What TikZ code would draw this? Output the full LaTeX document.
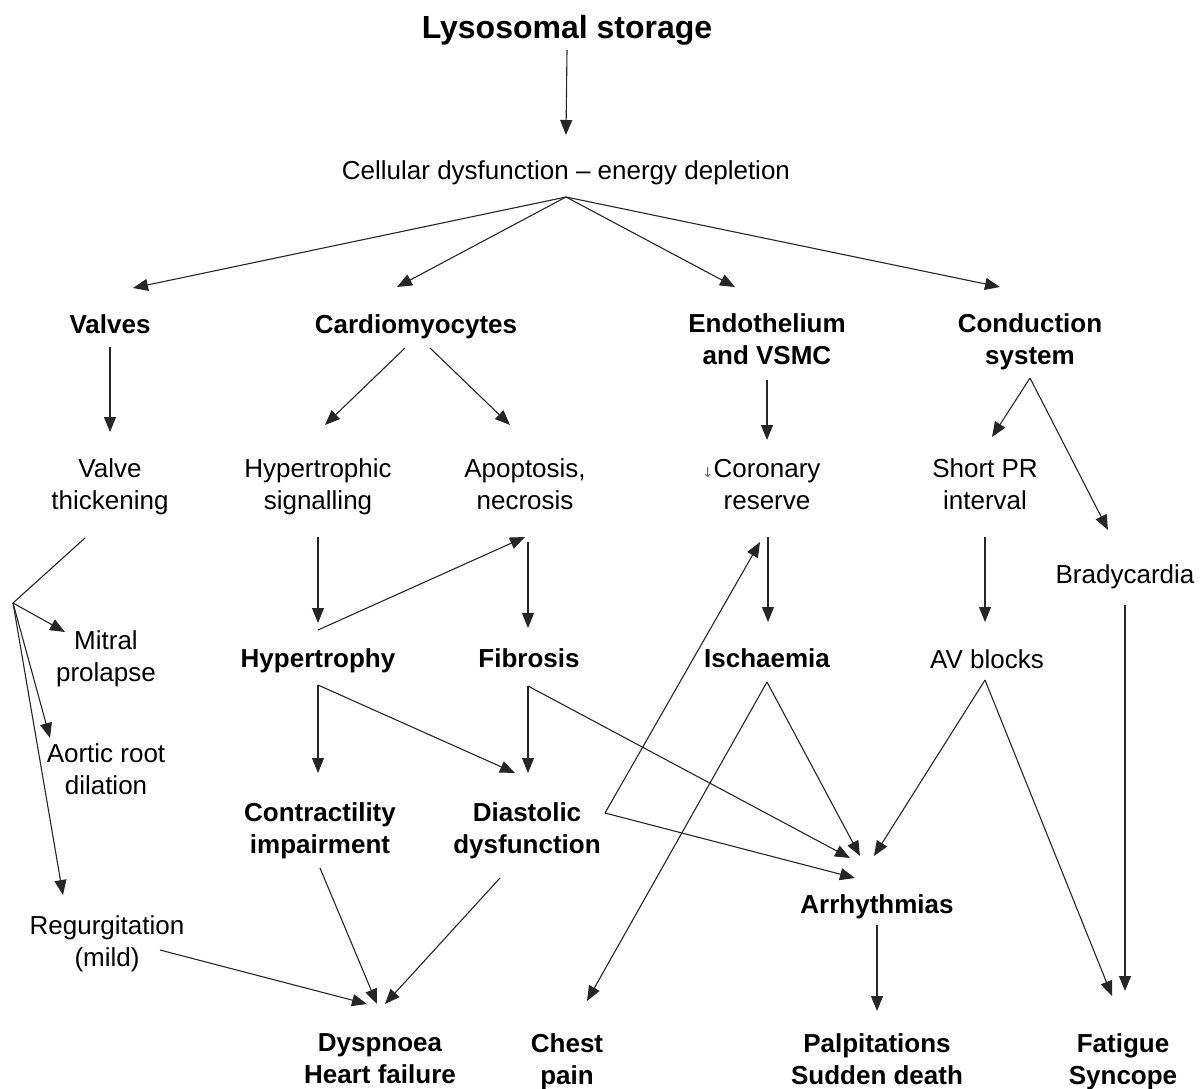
\documentclass[tikz,border=0pt]{standalone}
\usepackage{fontspec}
\setmainfont{Liberation Sans}
\newfontfamily\symfont{DejaVu Sans}
\usetikzlibrary{arrows.meta,calc}
\begin{document}
\begin{tikzpicture}[x=1pt,y=-1pt,
  lbl/.style={align=center,inner sep=0pt,text depth=0pt,font=\fontsize{26}{32}\selectfont},
  blbl/.style={lbl,font=\fontsize{26}{32}\selectfont\bfseries},
  conn/.style={line width=1.1pt,draw=black!85},
  arr/.style={conn,-{Triangle[length=15pt,width=12pt]}}]
\useasboundingbox (0,0) rectangle (1200,1088);
% nodes
\node[blbl,font=\fontsize{32}{36}\selectfont\bfseries] (lys) at (567,27) {Lysosomal storage};
\node[lbl] (cell) at (566,170) {Cellular dysfunction -- energy depletion};
\node[blbl] (valves) at (110,324) {Valves};
\node[blbl] (cardio) at (416,324) {Cardiomyocytes};
\node[blbl] (endo) at (767,339) {Endothelium\\and VSMC};
\node[blbl] (cond) at (1030,339) {Conduction\\system};
\node[lbl] (vthick) at (110,484) {Valve\\thickening};
\node[lbl] (hsig) at (318,484) {Hypertrophic\\signalling};
\node[lbl] (apop) at (525,484) {Apoptosis,\\necrosis};
\node[lbl] (coro) at (767,484) {\llap{\textcolor{black!60}{\symfont\fontsize{14}{14}\selectfont↓}}Coronary\\reserve};
\node[lbl] (spr) at (985,484) {Short PR\\interval};
\node[lbl] (brady) at (1125,574) {Bradycardia};
\node[lbl] (mitral) at (106,656) {Mitral\\prolapse};
\node[lbl] (aortic) at (106,769) {Aortic root\\dilation};
\node[lbl] (regurg) at (107,941) {Regurgitation\\(mild)};
\node[blbl] (hyper) at (318,658) {Hypertrophy};
\node[blbl] (fib) at (529,658) {Fibrosis};
\node[blbl] (isch) at (767,658) {Ischaemia};
\node[lbl] (avb) at (987,659) {AV blocks};
\node[blbl] (contr) at (320,828) {Contractility\\impairment};
\node[blbl] (diast) at (527,828) {Diastolic\\dysfunction};
\node[blbl] (arrh) at (877,904) {Arrhythmias};
\node[blbl] (dysp) at (380,1059) {Dyspnoea\\Heart failure};
\node[blbl] (chest) at (567,1059) {Chest\\pain};
\node[blbl] (palp) at (877,1059) {Palpitations\\Sudden death};
\node[blbl] (fat) at (1123,1059) {Fatigue\\Syncope};
% junctions
\coordinate (cj) at ($(cell)+(0,27)$);
\coordinate (vj) at ($(vthick)+(-97,119)$);
\coordinate (dj) at ($(diast)+(78,-15)$);
\coordinate (condj) at ($(cond)+(0,39)$);
\coordinate (cardL) at ($(cardio)+(-11,24)$);
\coordinate (cardR) at ($(cardio)+(14,24)$);
\coordinate (hj) at ($(hyper)+(0,27)$);
\coordinate (fj) at ($(fib)+(-1,28)$);
\coordinate (ij) at ($(isch)+(0,24)$);
\coordinate (aj) at ($(avb)+(-2,21)$);
% connectors
\draw[arr] ($(lys)+(0,23)$) -- ($(cell)+(0,-35)$);
\draw[arr] (cj) -- ($(valves)+(23,-36)$);
\draw[arr] (cj) -- ($(cardio)+(-19,-37)$);
\draw[arr] (cj) -- ($(endo)+(-32,-52)$);
\draw[arr] (cj) -- ($(cond)+(-30,-52)$);
\draw[arr] ($(valves)+(0,23)$) -- ($(vthick)+(0,-52)$);
\draw[arr] (cardL) -- ($(hsig)+(7,-59)$);
\draw[arr] (cardR) -- ($(apop)+(-15,-59)$);
\draw[arr] ($(endo)+(0,41)$) -- ($(coro)+(0,-44)$);
\draw[arr] (condj) -- ($(spr)+(7,-47)$);
\draw[arr] (condj) -- ($(brady)+(-17,-44)$);
\draw[conn] ($(vthick)+(-25,54)$) -- (vj);
\draw[arr] (vj) -- ($(mitral)+(-41,-24)$);
\draw[arr] (vj) -- ($(aortic)+(-56,-31)$);
\draw[arr] (vj) -- ($(regurg)+(-44,-46)$);
\draw[arr] ($(hsig)+(0,53)$) -- ($(hyper)+(0,-35)$);
\draw[arr] ($(hyper)+(0,-28)$) -- ($(apop)+(0,53)$);
\draw[arr] ($(apop)+(3,58)$) -- ($(fib)+(-1,-30)$);
\draw[arr] (hj) -- ($(contr)+(-2,-55)$);
\draw[arr] (hj) -- ($(diast)+(-12,-55)$);
\draw[arr] (fj) -- ($(diast)+(1,-55)$);
\draw[arr] (fj) -- ($(arrh)+(-27,-46)$);
\draw[arr] ($(coro)+(1,53)$) -- ($(isch)+(1,-36)$);
\draw[arr] (dj) -- ($(coro)+(-7,58)$);
\draw[arr] (dj) -- ($(arrh)+(-22,-26)$);
\draw[arr] (ij) -- ($(arrh)+(-17,-48)$);
\draw[arr] (ij) -- ($(chest)+(20,-58)$);
\draw[arr] ($(spr)+(0,53)$) -- ($(avb)+(-2,-37)$);
\draw[arr] (aj) -- ($(arrh)+(-3,-48)$);
\draw[arr] (aj) -- ($(fat)+(-11,-63)$);
\draw[arr] ($(brady)+(0,31)$) -- ($(fat)+(2,-68)$);
\draw[arr] ($(arrh)+(0,21)$) -- ($(palp)+(0,-48)$);
\draw[arr] ($(contr)+(0,40)$) -- ($(dysp)+(-3,-55)$);
\draw[arr] ($(diast)+(-27,50)$) -- ($(dysp)+(5,-55)$);
\draw[arr] ($(regurg)+(53,9)$) -- ($(dysp)+(-13,-55)$);
\end{tikzpicture}
\end{document}
